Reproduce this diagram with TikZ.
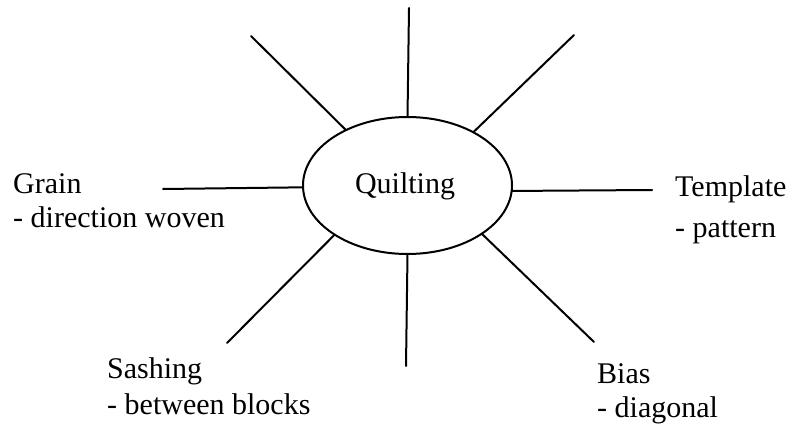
\documentclass[tikz,border=0pt]{standalone}
\usepackage{fontspec}
\setmainfont{Liberation Serif}
\usetikzlibrary{shapes.geometric}
\begin{document}
\begin{tikzpicture}[x=1pt,y=-1pt,
  spoke/.style={line width=2pt, line cap=round},
  lbl/.style={anchor=base west, inner sep=0pt, font=\fontsize{30}{34}\selectfont},
  hub/.style={ellipse, draw, line width=2pt, minimum width=209pt, minimum height=137pt, inner sep=0pt, outer sep=0pt}]
\useasboundingbox (0,0) rectangle (794,428);
\node[hub] (q) at (407.5,185.5) {};
\node[anchor=base, inner sep=0pt, font=\fontsize{30}{34}\selectfont] (qt) at (405,193) {Quilting};
% outer ends
\coordinate (top) at (409,8);
\coordinate (tl) at (251,36);
\coordinate (tr) at (574,35);
\coordinate (lft) at (163,189);
\coordinate (rgt) at (652,190);
\coordinate (bl) at (227,343);
\coordinate (bot) at (406,366);
\coordinate (br) at (594,342);
\draw[spoke] (q.90) -- (top);
\draw[spoke] (q.138.8) -- (tl);
\draw[spoke] (q.39.5) -- (tr);
\draw[spoke] (q.181.9) -- (lft);
\draw[spoke] (q.357.5) -- (rgt);
\draw[spoke] (q.214.7) -- (bl);
\draw[spoke] (q.270) -- (bot);
\draw[spoke] (q.327.1) -- (br);
% labels
\node[lbl] (grain) at (13,193) {Grain};
\node[lbl] (grains) at (13,227) {- direction woven};
\node[lbl] (tmpl) at (675,196) {Template};
\node[lbl] (tmpls) at (675,237) {- pattern};
\node[lbl] (sash) at (107,378) {Sashing};
\node[lbl] (sashs) at (107,414) {- between blocks};
\node[lbl] (bias) at (597,383) {Bias};
\node[lbl] (biass) at (597,417) {- diagonal};
\end{tikzpicture}
\end{document}
